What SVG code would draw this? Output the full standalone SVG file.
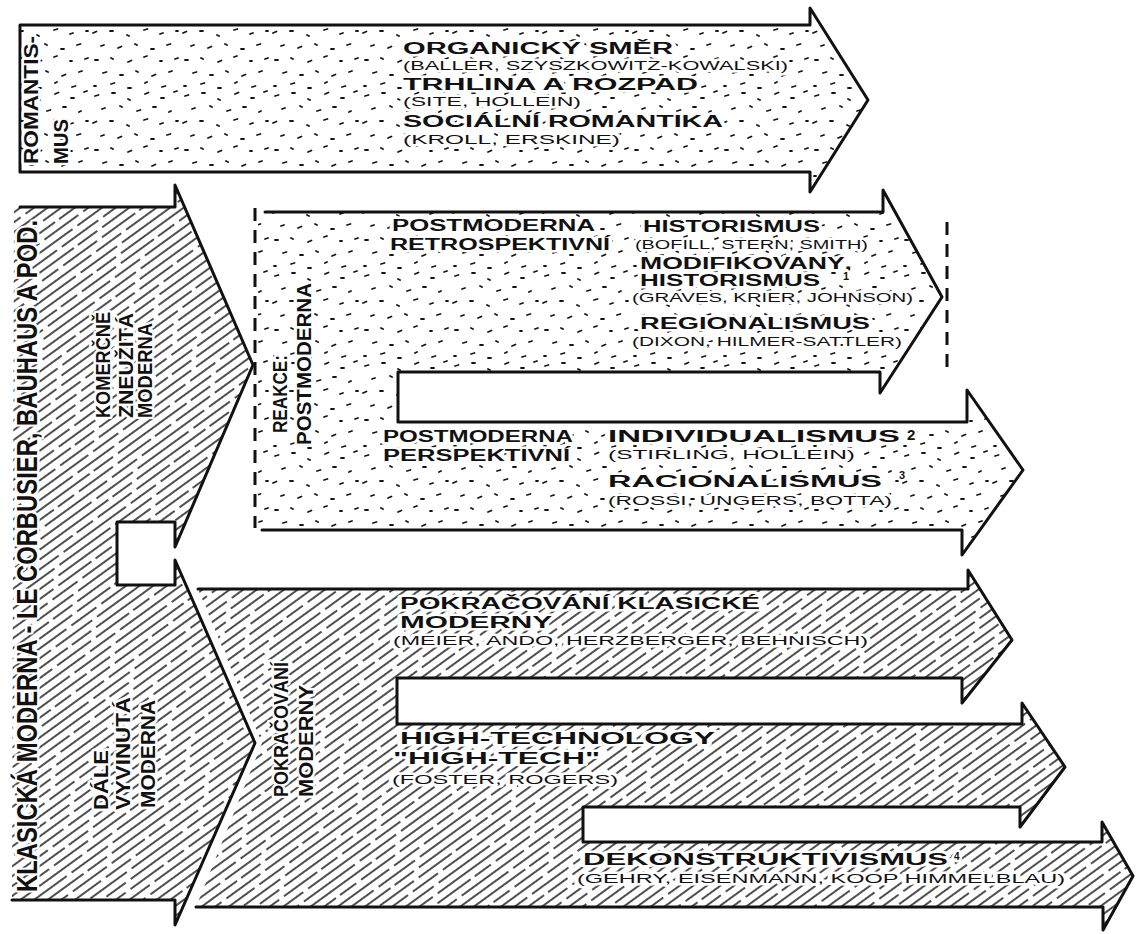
<svg xmlns="http://www.w3.org/2000/svg" width="1136" height="934" viewBox="0 0 1136 934">
<defs>
<pattern id="stipple" width="90" height="90" patternUnits="userSpaceOnUse">
<path d="M5 6l3.5 -1M22 3l3 0M38 9l2 1M55 4l3.5 -1.5M71 8l3 0M84 2l3 -1M12 19l3 -1M30 16l2 1M47 21l3.5 -1M63 17l3 0M79 22l2 -1M3 33l3.5 -1.5M20 31l3 0M37 35l2 1M54 30l3.5 -1M70 34l3 -1M86 31l2 0M11 46l3 -1M28 48l3.5 -1.5M45 44l2 1M61 49l3 0M77 45l3.5 -1M5 60l3 0M21 58l2 1M38 62l3.5 -1.5M54 57l3 -1M70 61l2 0M85 59l3 -1M13 73l3.5 -1M30 75l3 0M46 71l2 1M62 76l3.5 -1.5M79 72l3 -1M4 86l2 0M21 84l3.5 -1M38 88l3 0M55 83l2 -1M72 87l3.5 -1" stroke="#151515" stroke-width="1.8" stroke-linecap="round" fill="none"/>
</pattern>
<pattern id="hatch" width="120" height="32" patternUnits="userSpaceOnUse" patternTransform="rotate(-36)">
<path d="M0 4H44M50 4H81M87 4H120M0 12H19M25 12H70M76 12H120M0 20H34M39 20H63M69 20H120M0 28H9M15 28H57M63 28H104M109 28H120" stroke="#151515" stroke-width="1.6" fill="none"/>
</pattern>
<style>
.ol{fill:none;stroke:#111;stroke-width:3;stroke-linejoin:round;stroke-linecap:round}
.dash{fill:none;stroke:#111;stroke-width:3;stroke-dasharray:13 9}
text{font-family:"Liberation Sans","DejaVu Sans",sans-serif;fill:#111;stroke:#fff;stroke-width:5;paint-order:stroke;stroke-linejoin:round}
.h{font-size:16px;font-weight:bold}
.s{font-size:12.5px}
.r{font-size:20px;font-weight:bold}
.big{font-size:29px;font-weight:bold}
.sup{font-size:11px;font-weight:bold}
</style>
</defs>
<rect width="1136" height="934" fill="#fff"/>

<g id="romantismus">
<path d="M20,25 H810 V8 L868,100 L810,192 V172 H20 Z" class="ol" style="fill:url(#stipple)"/>
<text class="r" transform="translate(38,164) rotate(-90)" textLength="128" lengthAdjust="spacingAndGlyphs">ROMANTIS-</text>
<text class="r" transform="translate(68,164) rotate(-90)" textLength="45" lengthAdjust="spacingAndGlyphs">MUS</text>
<text class="h" x="403" y="54" textLength="270" lengthAdjust="spacingAndGlyphs">ORGANICKÝ SMĚR</text>
<text class="s" x="403" y="70" textLength="385" lengthAdjust="spacingAndGlyphs">(BALLER, SZYSZKOWITZ-KOWALSKI)</text>
<text class="h" x="403" y="90" textLength="295" lengthAdjust="spacingAndGlyphs">TRHLINA A ROZPAD</text>
<text class="s" x="403" y="106" textLength="178" lengthAdjust="spacingAndGlyphs">(SITE, HOLLEIN)</text>
<text class="h" x="403" y="127" textLength="320" lengthAdjust="spacingAndGlyphs">SOCIÁLNÍ ROMANTIKA</text>
<text class="s" x="403" y="144" textLength="217" lengthAdjust="spacingAndGlyphs">(KROLL, ERSKINE)</text>
</g>

<g id="klasicka-moderna">
<path d="M14,207 H175 V185 L253,365 L175,547 V522 H117 V585 H175 V560 L255,743 L175,925 V900 H12 Z" fill="url(#hatch)"/>
<path d="M20,207 H175 V185 L253,365 L175,547 V522 H117 V585 H175 V560 L255,743 L175,925 V900 H12" class="ol"/>
<text class="big" transform="translate(37,892) rotate(-90)" textLength="672" lengthAdjust="spacingAndGlyphs">KLASICKÁ MODERNA - LE CORBUSIER, BAUHAUS A POD.</text>
<text class="r" transform="translate(110,418) rotate(-90)" textLength="106" lengthAdjust="spacingAndGlyphs">KOMERČNĚ</text>
<text class="r" transform="translate(133,418) rotate(-90)" textLength="105" lengthAdjust="spacingAndGlyphs">ZNEUŽITÁ</text>
<text class="r" transform="translate(152,418) rotate(-90)" textLength="95" lengthAdjust="spacingAndGlyphs">MODERNA</text>
<text class="r" transform="translate(108,810) rotate(-90)" textLength="60" lengthAdjust="spacingAndGlyphs">DÁLE</text>
<text class="r" transform="translate(130,810) rotate(-90)" textLength="113" lengthAdjust="spacingAndGlyphs">VYVINUTÁ</text>
<text class="r" transform="translate(155,808) rotate(-90)" textLength="108" lengthAdjust="spacingAndGlyphs">MODERNA</text>
</g>

<g id="postmoderna">
<path d="M258,212 H883 V190 L942,297 L880,393 V372 H398 V422 H967 V390 L1023,470 L962,555 V530 H258 Z" fill="url(#stipple)"/>
<path d="M265,212 H883 V190 L942,297 L880,393 V372 H398 V422 H967 V390 L1023,470 L962,555 V530 H262" class="ol"/>
<path d="M255,208 V528" class="dash"/>
<path d="M947,222 V375" class="dash"/>
<text class="r" transform="translate(287,433) rotate(-90)" textLength="78" lengthAdjust="spacingAndGlyphs">REAKCE:</text>
<text class="r" transform="translate(311,445) rotate(-90)" textLength="162" lengthAdjust="spacingAndGlyphs">POSTMODERNA</text>
<text class="h" x="392" y="231" textLength="203" lengthAdjust="spacingAndGlyphs">POSTMODERNA</text>
<text class="h" x="390" y="250" textLength="220" lengthAdjust="spacingAndGlyphs">RETROSPEKTIVNÍ</text>
<text class="h" x="643" y="232" textLength="177" lengthAdjust="spacingAndGlyphs">HISTORISMUS</text>
<text class="s" x="635" y="249" textLength="233" lengthAdjust="spacingAndGlyphs">(BOFILL, STERN, SMITH)</text>
<text class="h" x="640" y="269" textLength="212" lengthAdjust="spacingAndGlyphs">MODIFIKOVANÝ,</text>
<text class="h" x="640" y="286" textLength="180" lengthAdjust="spacingAndGlyphs">HISTORISMUS</text>
<text class="sup" x="843" y="280">1</text>
<text class="s" x="632" y="302" textLength="281" lengthAdjust="spacingAndGlyphs">(GRAVES, KRIER, JOHNSON)</text>
<text class="h" x="640" y="329" textLength="230" lengthAdjust="spacingAndGlyphs">REGIONALISMUS</text>
<text class="s" x="632" y="346" textLength="270" lengthAdjust="spacingAndGlyphs">(DIXON, HILMER-SATTLER)</text>
<text class="h" x="383" y="442" textLength="190" lengthAdjust="spacingAndGlyphs">POSTMODERNA</text>
<text class="h" x="383" y="461" textLength="187" lengthAdjust="spacingAndGlyphs">PERSPEKTIVNÍ</text>
<text class="h" x="608" y="442" textLength="292" lengthAdjust="spacingAndGlyphs">INDIVIDUALISMUS</text>
<text class="h" x="907" y="440" style="font-size:15px">2</text>
<text class="s" x="608" y="459" textLength="247" lengthAdjust="spacingAndGlyphs">(STIRLING, HOLLEIN)</text>
<text class="h" x="608" y="487" textLength="274" lengthAdjust="spacingAndGlyphs">RACIONALISMUS</text>
<text class="sup" x="899" y="479">3</text>
<text class="s" x="608" y="505" textLength="284" lengthAdjust="spacingAndGlyphs">(ROSSI, UNGERS, BOTTA)</text>
</g>

<g id="pokracovani-moderny">
<path d="M198,589 H968 V570 L1012,640 L962,703 V678 H397 V724 H1022 V703 L1065,767 L1020,827 V807 H583 V842 H1102 V822 L1133,876 L1103,930 V907 H196 L262,743 Z" fill="url(#hatch)"/>
<path d="M198,589 H968 V570 L1012,640 L962,703 V678 H397 V724 H1022 V703 L1065,767 L1020,827 V807 H583 V842 H1102 V822 L1133,876 L1103,930 V907 H196" class="ol"/>
<text class="r" transform="translate(288,797) rotate(-90)" textLength="135" lengthAdjust="spacingAndGlyphs">POKRAČOVÁNÍ</text>
<text class="r" transform="translate(313,797) rotate(-90)" textLength="112" lengthAdjust="spacingAndGlyphs">MODERNY</text>
<text class="h" x="400" y="609" textLength="360" lengthAdjust="spacingAndGlyphs">POKRAČOVÁNÍ KLASICKÉ</text>
<text class="h" x="400" y="628" textLength="152" lengthAdjust="spacingAndGlyphs">MODERNY</text>
<text class="s" x="393" y="645" textLength="475" lengthAdjust="spacingAndGlyphs">(MEIER, ANDO, HERZBERGER, BEHNISCH)</text>
<text class="h" x="400" y="744" textLength="315" lengthAdjust="spacingAndGlyphs">HIGH-TECHNOLOGY</text>
<text class="h" x="393" y="764" textLength="207" lengthAdjust="spacingAndGlyphs">"HIGH-TECH"</text>
<text class="s" x="392" y="784" textLength="226" lengthAdjust="spacingAndGlyphs">(FOSTER, ROGERS)</text>
<text class="h" x="583" y="865" textLength="365" lengthAdjust="spacingAndGlyphs">DEKONSTRUKTIVISMUS</text>
<text class="sup" x="954" y="860" style="font-size:10px">4</text>
<text class="s" x="577" y="883" textLength="488" lengthAdjust="spacingAndGlyphs">(GEHRY, EISENMANN, KOOP HIMMELBLAU)</text>
</g>

<g id="connectors"></g>
</svg>
